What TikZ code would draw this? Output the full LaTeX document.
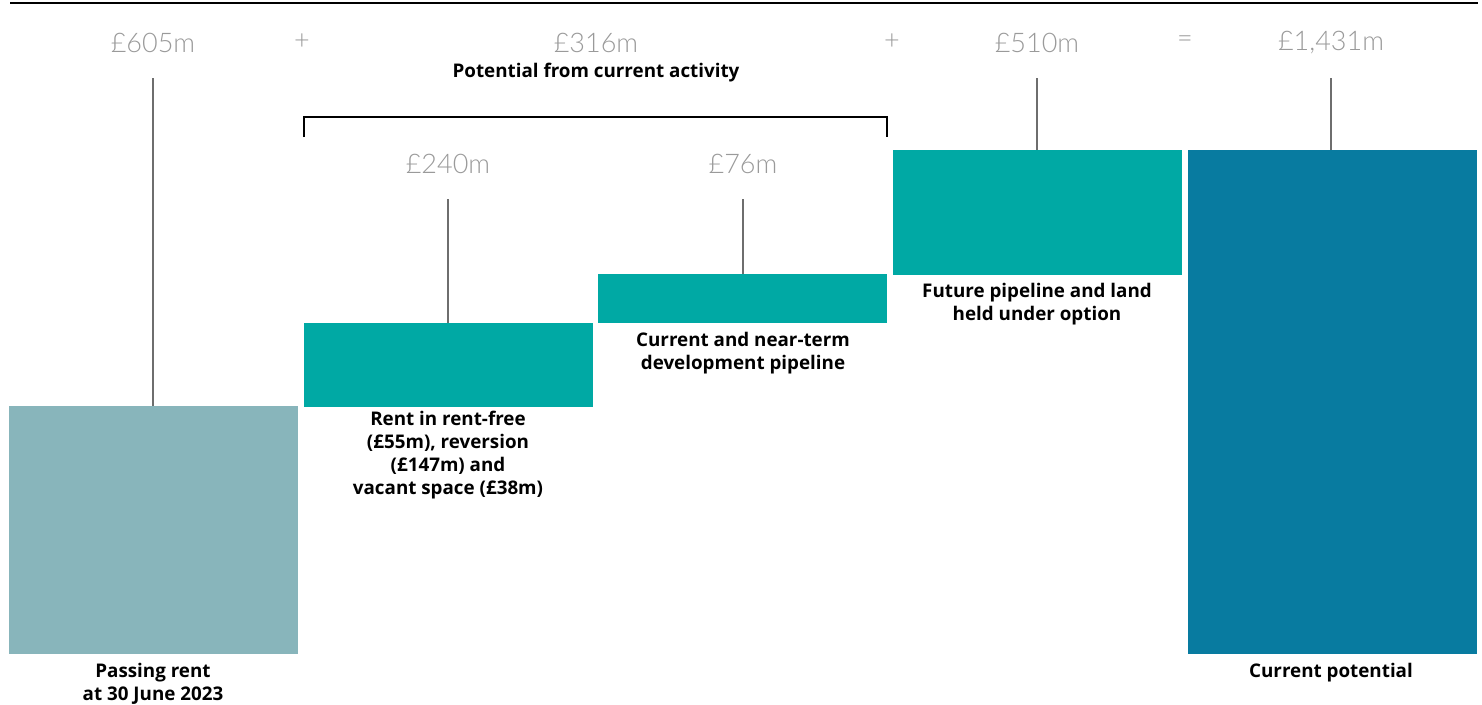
\documentclass[tikz,border=0pt]{standalone}
\usepackage{fontspec}
\setmainfont{Lato}
\newfontfamily\thinfont{Lato}[UprightFont=* Light]
\newfontfamily\labfont{Open Sans}
\definecolor{valgray}{HTML}{9A9A9A}
\definecolor{linegray}{HTML}{6E6E6E}
\definecolor{passcol}{HTML}{88B5BB}
\definecolor{tealcol}{HTML}{00A9A4}
\definecolor{bluecol}{HTML}{087BA0}
\tikzset{
  bar/.style={draw=none, inner sep=0pt, anchor=north west},
  val/.style={text=valgray, font=\thinfont\fontsize{27}{30}\selectfont, inner sep=0pt},
  op/.style={text=valgray, font=\thinfont\fontsize{27}{30}\selectfont, inner sep=0pt},
  labtext/.style={font=\labfont\bfseries\fontsize{18.8}{23}\selectfont},
  lab/.style={labtext, align=center, inner sep=0pt, anchor=north},
  stem/.style={draw=linegray, line width=1.3pt},
}
\begin{document}
\begin{tikzpicture}[x=1pt,y=-1pt]
\useasboundingbox (0,0) rectangle (1482,704);
% top rule
\coordinate (r1) at (10,3);
\coordinate (r2) at (1478,3);
\draw[line width=1.3pt] (r1) -- (r2);
% bars
\node[bar, fill=passcol, minimum width=289pt, minimum height=248pt] (b1) at (9,406) {};
\node[bar, fill=tealcol, minimum width=289pt, minimum height=84pt] (b2) at (304,323) {};
\node[bar, fill=tealcol, minimum width=289pt, minimum height=49pt] (b3) at (598,274) {};
\node[bar, fill=tealcol, minimum width=289pt, minimum height=125pt] (b4) at (893,150) {};
\node[bar, fill=bluecol, minimum width=289pt, minimum height=504pt] (b5) at (1188,150) {};
% values
\node[val] (v1) at (153,43) {£605m};
\node[op] (p1) at (302,42) {+};
\node[val] (v2) at (596,43) {£316m};
\node[op] (p2) at (892,42) {+};
\node[val] (v4) at (1037,43) {£510m};
\node[op] (eq) at (1185,42) {=};
\node[val] (v5) at (1331,43) {£1,431m};
\node[val] (v21) at (448,164) {£240m};
\node[val] (v22) at (743,164) {£76m};
\node[labtext, inner sep=0pt] (pca) at (596,73) {Potential from current activity};
% bracket
\coordinate (k1) at (304,137);
\coordinate (k2) at (304,117);
\coordinate (k3) at (887,117);
\coordinate (k4) at (887,137);
\draw[line width=1.2pt] (k1) -- (k2) -- (k3) -- (k4);
% stems
\coordinate (s1) at (153,78);
\coordinate (s21) at (448,199);
\coordinate (s22) at (743,199);
\coordinate (s4) at (1037,78);
\coordinate (s5) at (1331,78);
\draw[stem] (s1) -- (b1.north -| s1);
\draw[stem] (s21) -- (b2.north -| s21);
\draw[stem] (s22) -- (b3.north -| s22);
\draw[stem] (s4) -- (b4.north -| s4);
\draw[stem] (s5) -- (b5.north -| s5);
% labels
\node[lab] (l1) at (153,663) {Passing rent\\at 30 June 2023};
\node[lab] (l2) at (448,411) {Rent in rent-free\\(£55m), reversion\\(£147m) and\\vacant space (£38m)};
\node[lab] (l3) at (743,332) {Current and near-term\\development pipeline};
\node[lab] (l4) at (1037,283) {Future pipeline and land\\held under option};
\node[lab] (l5) at (1331,663) {Current potential};
\end{tikzpicture}
\end{document}
